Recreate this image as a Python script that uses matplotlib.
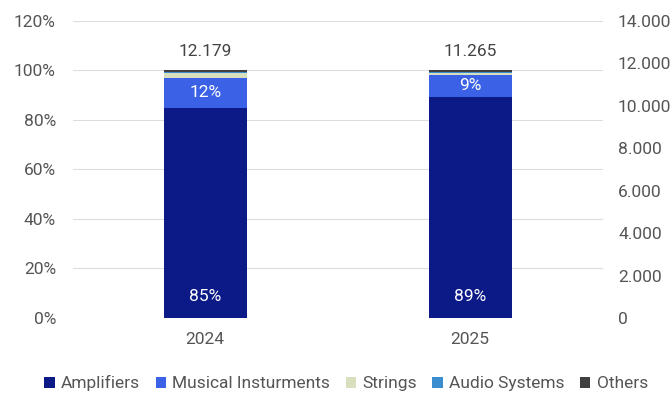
import matplotlib
matplotlib.use("Agg")
import matplotlib.pyplot as plt
from matplotlib.ticker import FuncFormatter
import numpy as np

plt.rcParams['font.family'] = ['Roboto', 'DejaVu Sans']

years = ["2024", "2025"]
series = ["Amplifiers", "Musical Insturments", "Strings", "Audio Systems", "Others"]
shares = {
    "Amplifiers": [85.0, 89.3],
    "Musical Insturments": [11.9, 8.9],
    "Strings": [1.9, 0.7],
    "Audio Systems": [0.6, 0.6],
    "Others": [0.6, 0.5],
}
labels = {"Amplifiers": ["85%", "89%"], "Musical Insturments": ["12%", "9%"]}
totals = [12179, 11265]
colors = ["#0c1a88", "#3b62e6", "#d8dfbd", "#3a8dce", "#404040"]

FS = 12.5
fig = plt.figure(figsize=(6.72, 3.94), dpi=100)
ax = fig.add_axes([0.108, 0.193, 0.789, 0.754])
ax2 = ax.twinx()

x = np.arange(len(years))
bottom = np.zeros(len(years))
for s, c in zip(series, colors):
    vals = np.array(shares[s])
    ax.bar(x, vals, 0.313, bottom=bottom, color=c, label=s, zorder=3)
    if s == "Amplifiers":
        for xi, t in zip(x, labels[s]):
            ax.text(xi, 8.5, t, ha="center", va="center", color="white", fontsize=FS, zorder=4)
    elif s == "Musical Insturments":
        for xi, b, v, t in zip(x, bottom, vals, labels[s]):
            ax.text(xi, b + v / 2, t, ha="center", va="center", color="white", fontsize=FS, zorder=4)
    bottom += vals

for xi, t in zip(x, totals):
    ax.text(xi, 107.8, f"{t:,}".replace(",", "."), ha="center", va="center", color="#444444", fontsize=FS)

ax.set_xlim(-0.5, 1.5)
ax.set_ylim(0, 120)
ax.set_yticks(np.arange(0, 121, 20))
ax.yaxis.set_major_formatter(FuncFormatter(lambda v, p: f"{int(v)}%"))
ax.set_xticks(x)
ax.set_xticklabels(years)
ax.grid(axis="y", color="#dddddd", linewidth=0.8, zorder=0)

ax2.set_ylim(0, 14000)
ax2.set_yticks(np.arange(0, 14001, 2000))
ax2.yaxis.set_major_formatter(FuncFormatter(lambda v, p: f"{int(v):,}".replace(",", ".")))

for a in (ax, ax2):
    for sp in a.spines.values():
        sp.set_visible(False)
    a.tick_params(length=0, labelsize=FS, colors="#555555")
ax.tick_params(axis="y", pad=12)
ax.tick_params(axis="x", pad=10)
ax2.tick_params(axis="y", pad=11)

fig.legend(*ax.get_legend_handles_labels(), loc="center", bbox_to_anchor=(0.515, 0.027), ncol=5,
           frameon=False, fontsize=FS, handlelength=0.6, handleheight=0.6, handletextpad=0.35,
           columnspacing=0.9, labelcolor="#555555")

fig.savefig("out.png", dpi=100)
